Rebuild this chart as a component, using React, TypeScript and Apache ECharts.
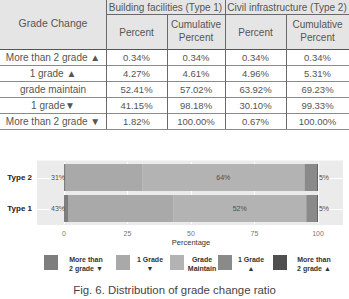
import React, { useEffect, useRef } from "react";
import * as echarts from "echarts";

// Table rows, top to bottom
const gradeRows = ["More than 2 grade ▲", "1 grade ▲", "grade maintain", "1 grade▼", "More than 2 grade ▼"];
const type1Percent = [0.34, 4.27, 52.41, 41.15, 1.82];
const type1Cumulative = [0.34, 4.61, 57.02, 98.18, 100.0];
const type2Percent = [0.34, 4.96, 63.92, 30.1, 0.67];
const type2Cumulative = [0.34, 5.31, 69.23, 99.33, 100.0];

// Bar chart
const typeCategories = ["Type 1", "Type 2"];
// stacked left to right (reverse of the table rows)
const seriesNames = ["More than 2 grade ▼", "1 Grade ▼", "Grade Maintain", "1 Grade ▲", "More than 2 grade ▲"];
const legendLabels = ["More than\n2 grade ▼", "1 Grade\n▼", "Grade\nMaintain", "1 Grade\n▲", "More than\n2 grade ▲"];
const segmentColors = ["#7e7e7e", "#a9a9a9", "#b3b3b3", "#8a8a8a", "#4f4f4f"];
const xTicks = [0, 25, 50, 75, 100];

const FONT = "'Liberation Sans', Arial, 'DejaVu Sans', sans-serif";
const W = 349;
const H = 299;

function txt(text: string, x: number, y: number, extra: Record<string, unknown> = {}) {
  return {
    type: "text",
    silent: true,
    z: 10,
    style: {
      text,
      x,
      y,
      align: "center",
      verticalAlign: "middle",
      textAlign: "center",
      textVerticalAlign: "middle",
      fontSize: 10,
      fontFamily: FONT,
      fill: "#555",
      ...extra,
    },
  };
}

function hLine(x1: number, x2: number, y: number, color = "#6a6a6a", z = 5) {
  return {
    type: "line",
    silent: true,
    z,
    shape: { x1, y1: y, x2, y2: y },
    style: { stroke: color, lineWidth: 1 },
  };
}

function vLine(x: number, y1: number, y2: number, color = "#6a6a6a") {
  return {
    type: "line",
    silent: true,
    z: 5,
    shape: { x1: x, y1, x2: x, y2 },
    style: { stroke: color, lineWidth: 1 },
  };
}

const pct = (v: number) => v.toFixed(2) + "%";

function buildTable() {
  const cols = [0, 106, 167, 225, 286, W];
  const headTop = 0;
  const headMid = 14;
  const headBottom = 49;
  const rowH = 16;
  const els: any[] = [];
  els.push({
    type: "rect",
    silent: true,
    z: 1,
    shape: { x: 0, y: headTop, width: W, height: headBottom - headTop },
    style: { fill: "#e5e5e5" },
  });
  const center = (c: number) => (cols[c] + cols[c + 1]) / 2;
  els.push(txt("Grade Change", center(0), 23, { fontSize: 10.5 }));
  els.push(txt("Building facilities (Type 1)", (cols[1] + cols[3]) / 2, 7));
  els.push(txt("Civil infrastructure (Type 2)", (cols[3] + cols[5]) / 2, 7));
  const sub = ["Percent", "Cumulative\nPercent", "Percent", "Cumulative\nPercent"];
  sub.forEach((s, i) => {
    const two = s.includes("\n");
    els.push(txt(s, center(i + 1), two ? 31 : 32, { lineHeight: 12.5 }));
  });
  gradeRows.forEach((g, r) => {
    const cy = headBottom + rowH * r + rowH / 2 + 0.5;
    const vals = [type1Percent[r], type1Cumulative[r], type2Percent[r], type2Cumulative[r]];
    els.push(txt(g, center(0), cy));
    vals.forEach((v, c) => els.push(txt(pct(v), center(c + 1), cy, { fontSize: 9.5 })));
  });
  const bottom = headBottom + rowH * gradeRows.length;
  els.push(hLine(cols[1], W, headMid + 0.5));
  els.push(hLine(0, W, headBottom + 0.5, "#555"));
  for (let r = 1; r <= gradeRows.length; r++) {
    els.push(hLine(0, W, headBottom + rowH * r + 0.5, "#8a8a8a"));
  }
  els.push(vLine(cols[1] + 0.5, headTop, bottom));
  els.push(vLine(cols[2] + 0.5, headMid, bottom));
  els.push(vLine(cols[3] + 0.5, headTop, bottom));
  els.push(vLine(cols[4] + 0.5, headMid, bottom));
  return els;
}

function buildLegend() {
  const boxX = [44, 116, 170, 218, 273];
  const textX = [86, 150, 202, 251, 314];
  const els: any[] = [];
  seriesNames.forEach((_, i) => {
    els.push({
      type: "rect",
      silent: true,
      shape: { x: boxX[i], y: 255, width: 14, height: 15 },
      style: { fill: segmentColors[i] },
    });
    els.push(
      txt(legendLabels[i], textX[i], 264, {
        fontSize: 7,
        fontWeight: "bold",
        fill: "#333",
        lineHeight: 8.5,
      })
    );
  });
  return els;
}

const PANEL = { x: 37, y: 160.5, width: 306, height: 64.5 };

export default function App() {
  const ref = useRef<HTMLDivElement>(null);

  useEffect(() => {
    document.body.style.margin = "0";
    if (!ref.current) return;
    const chart = echarts.init(ref.current, undefined, { renderer: "svg" });

    const percents = typeCategories.map((_, k) => (k === 0 ? type1Percent : type2Percent));
    const downSum = percents.map((p) => p[3] + p[4]);
    const upSum = percents.map((p) => p[0] + p[1]);

    const labelBase = { fontSize: 7, color: "#4d4d4d", fontFamily: FONT };

    const series = seriesNames.map((name, i) => {
      const row = gradeRows.length - 1 - i;
      let label: any = { show: false };
      if (i === 0) {
        label = {
          show: true,
          position: "left",
          distance: -1,
          ...labelBase,
          formatter: (p: any) => Math.round(downSum[p.dataIndex]) + "%",
        };
      } else if (i === 2) {
        label = {
          show: true,
          position: "inside",
          ...labelBase,
          formatter: (p: any) => Math.round(p.value) + "%",
        };
      } else if (i === seriesNames.length - 1) {
        label = {
          show: true,
          position: "right",
          distance: 1,
          ...labelBase,
          formatter: (p: any) => Math.round(upSum[p.dataIndex]) + "%",
        };
      }
      return {
        name,
        type: "bar",
        stack: "total",
        barWidth: 27,
        itemStyle: { color: segmentColors[i] },
        label,
        emphasis: { disabled: true },
        data: percents.map((p) => p[row]),
      };
    });

    const staticGraphic = [
      {
        type: "rect",
        silent: true,
        z: -1,
        shape: { ...PANEL },
        style: { fill: "#ebebeb" },
      },
      ...buildTable(),
      ...buildLegend(),
      txt("Fig. 6. Distribution of grade change ratio", W / 2, 290, {
        fontSize: 11.4,
        fill: "#444",
      }),
    ];

    chart.setOption({
      animation: false,
      textStyle: { fontFamily: FONT },
      grid: { left: 64, width: 254, top: 162, height: 62 },
      xAxis: {
        type: "value",
        min: xTicks[0],
        max: xTicks[xTicks.length - 1],
        interval: 25,
        name: "Percentage",
        nameLocation: "middle",
        nameGap: 14,
        nameTextStyle: { fontSize: 7.5, color: "#333", fontFamily: FONT },
        axisLine: { show: false },
        axisTick: { show: false },
        axisLabel: { fontSize: 7, color: "#777", margin: 6, fontFamily: FONT },
        splitLine: { show: true, lineStyle: { color: "#ffffff", width: 1 } },
      },
      yAxis: {
        type: "category",
        data: typeCategories,
        axisLine: { show: false },
        axisTick: { show: false },
        axisLabel: {
          fontSize: 8,
          fontWeight: "bold",
          color: "#222",
          margin: 32,
          fontFamily: FONT,
          padding: [4, 0, 0, 0],
        },
        splitLine: { show: false },
      },
      graphic: staticGraphic,
      series,
    });

    // white guide lines through the category centres, across the whole panel
    const guides = typeCategories.map((c) => {
      const y = chart.convertToPixel({ yAxisIndex: 0 }, c) as number;
      return hLine(PANEL.x, PANEL.x + PANEL.width, Math.round(y) + 0.5, "#ffffff", 0);
    });
    chart.setOption({ graphic: [...staticGraphic, ...guides] });

    return () => chart.dispose();
  }, []);

  return <div ref={ref} style={{ width: W, height: H }} />;
}
